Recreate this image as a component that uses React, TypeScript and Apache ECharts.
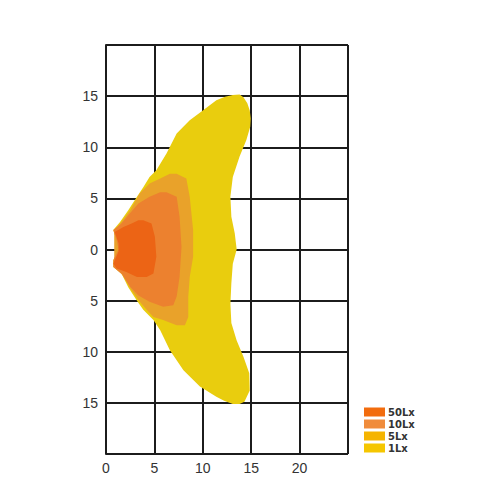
import React, { useEffect, useRef } from "react";
import * as echarts from "echarts";

const xTicks = [0, 5, 10, 15, 20];
const yTicks = [15, 10, 5, 0, -5, -10, -15];
const levelNames = ["1Lx", "5Lx", "10Lx", "50Lx"];
const areaColors = ["#E9CD0E", "#E9A22A", "#EC812F", "#EC6415"];
const legendColors = ["#F5C600", "#F5B400", "#F08C3C", "#F26C0E"];

const zone1Lx: number[][] = [
  [13.1, 15.1], [13.8, 15.15], [14.2, 14.9], [14.6, 14.3], [14.85, 13.6], [14.95, 12.8], [14.9, 12.0], [14.5, 10.7], [13.8, 9.1],
  [13.1, 7.1], [12.85, 5.15], [12.95, 3.2], [13.3, 1.6], [13.5, 0], [13.1, -1.4],
  [12.95, -3.3], [12.85, -5.3], [12.95, -7.2], [13.5, -8.9], [14.2, -10.5], [14.8, -12.1],
  [14.85, -13.8], [14.3, -14.9], [13.8, -15.1], [13.1, -15.1], [12.2, -14.8], [11.4, -14.4], [9.7, -13.4],
  [8.0, -11.8], [6.6, -9.85], [5.6, -7.9], [4.9, -6.9], [3.85, -5.9], [3.2, -5.0],
  [2.3, -3.7], [1.6, -2.35], [0.75, -1.7], [0.75, -1.05], [1.3, 0], [1.1, 0.9],
  [0.75, 1.9], [1.45, 2.7], [2.3, 3.85], [3.2, 5.15], [3.85, 6.1], [4.5, 7.1],
  [5.2, 7.75], [6.25, 9.4], [7.3, 11.35], [8.65, 12.65], [10.0, 13.6], [11.4, 14.6], [12.3, 14.95],
];

const zone5Lx: number[][] = [
  [7.3, 7.4], [8.3, 6.95], [8.65, 5.15], [9.0, 1.9], [9.0, -0.7], [8.65, -2.7],
  [8.5, -4.6], [8.5, -6.6], [8.15, -7.4], [7.3, -7.4], [5.9, -6.9], [4.9, -6.6],
  [4.2, -5.9], [3.4, -5.0], [2.5, -3.8], [1.7, -2.5], [0.85, -1.75], [0.85, 1.85],
  [1.55, 2.65], [2.5, 3.85], [3.5, 5.5], [4.5, 6.45], [5.6, 6.95], [6.6, 7.4],
];

const zone10Lx: number[][] = [
  [6.25, 5.6], [7.3, 5.15], [7.6, 3.2], [7.8, 0.25], [7.6, -2.7], [7.3, -4.6],
  [6.95, -5.45], [5.9, -5.6], [4.5, -5.1], [3.35, -4.5], [2.5, -3.65], [1.6, -2.35],
  [0.75, -1.7], [0.75, -1.05], [1.3, 0], [1.1, 0.9], [0.75, 1.9], [1.6, 2.55],
  [2.3, 3.35], [3.35, 4.5], [4.5, 5.15], [5.6, 5.6],
];

const zone50Lx: number[][] = [
  [3.85, 2.85], [4.7, 2.55], [5.05, 1.25], [5.2, -0.7], [4.9, -2.35], [4.2, -2.7],
  [3.2, -2.7], [2.1, -2.2], [1.1, -1.85], [0.75, -1.4], [1.3, -0.2], [1.3, 0.6],
  [0.9, 1.7], [1.8, 2.2], [2.65, 2.55], [3.35, 2.85],
];

const zones = [zone1Lx, zone5Lx, zone10Lx, zone50Lx];

export default function App() {
  const ref = useRef<HTMLDivElement>(null);
  useEffect(() => {
    if (!ref.current) return;
    const chart = echarts.init(ref.current, undefined, { renderer: "svg" });
    const lineStyle = { color: "#1c1c1c", width: 2 };
    const labelStyle = {
      color: "#333",
      fontSize: 14,
      fontFamily: "Liberation Sans, Arial, sans-serif",
    };
    chart.setOption({
      animation: false,
      backgroundColor: "#fff",
      grid: { left: 106, top: 45, width: 242, height: 409, containLabel: false },
      xAxis: {
        type: "value",
        min: 0,
        max: 25,
        interval: 5,
        axisLine: { show: true, lineStyle },
        axisTick: { show: false },
        splitLine: { show: true, lineStyle },
        axisLabel: {
          ...labelStyle,
          margin: 7,
          formatter: (v: number) => (xTicks.includes(v) ? String(v) : ""),
        },
      },
      yAxis: {
        type: "value",
        min: -20,
        max: 20,
        interval: 5,
        axisLine: { show: true, lineStyle },
        axisTick: { show: false },
        splitLine: { show: true, lineStyle },
        axisLabel: {
          ...labelStyle,
          margin: 8,
          formatter: (v: number) => (yTicks.includes(v) ? String(Math.abs(v)) : ""),
        },
      },
      legend: {
        orient: "vertical",
        left: 364,
        top: 407,
        padding: 0,
        icon: "rect",
        itemWidth: 21,
        itemHeight: 9,
        itemGap: 2,
        selectedMode: false,
        textStyle: {
          color: "#333",
          fontSize: 10,
          fontWeight: "bold",
          fontFamily: "DejaVu Sans, Verdana, sans-serif",
          lineHeight: 9,
          padding: [0, 0, 0, -2],
        },
        data: [3, 2, 1, 0].map((i) => ({
          name: levelNames[i],
          itemStyle: { color: legendColors[i] },
        })),
      },
      series: zones.map((pts, i) => ({
        type: "custom",
        name: levelNames[i],
        coordinateSystem: "cartesian2d",
        itemStyle: { color: legendColors[i] },
        data: pts,
        encode: { x: 0, y: 1 },
        z: 2 + i,
        renderItem: (params: any, api: any) => {
          if (params.dataIndex !== 0) return null;
          const points = pts.map((p) => api.coord(p));
          return {
            type: "polygon",
            shape: { points },
            style: { fill: areaColors[i] },
          };
        },
      })),
    });
    return () => chart.dispose();
  }, []);
  return (
    <div
      ref={ref}
      style={{ position: "fixed", left: 0, top: 0, width: 500, height: 500 }}
    />
  );
}
